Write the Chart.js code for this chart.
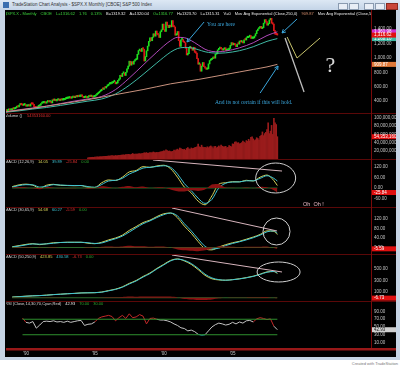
<!DOCTYPE html>
<html>
<head>
<meta charset="utf-8">
<script src="https://cdn.jsdelivr.net/npm/chart.js@4.4.0/dist/chart.umd.min.js"></script>
<style>
html, body { margin: 0; padding: 0; width: 400px; height: 366px; overflow: hidden; background: #fff; font-family: 'Liberation Sans', Arial, sans-serif; }
#frame { position: absolute; left: 0; top: 0; width: 400px; height: 360px; background: #c6d4e4; }
#titlebar { position: absolute; left: 0; top: 0; width: 400px; height: 10px; background: linear-gradient(#dde8f4, #c4d4e7); }
#title { position: absolute; left: 12px; top: 2px; font-size: 4.5px; color: #333; white-space: nowrap; }
#icon { position: absolute; left: 3px; top: 2px; width: 6px; height: 6px; background: #3a6fb0; }
.btn { position: absolute; top: 3px; height: 5px; border: 1px solid #8a9bb0; background: #e8eef6; }
#screen { position: absolute; left: 5px; top: 10px; width: 391px; height: 347px; background: #000; }
canvas { position: absolute; left: 6px; }
#credit { position: absolute; right: 2px; top: 361px; font-size: 4px; color: #777; white-space: nowrap; }
</style>
</head>
<body>
<div id="frame"></div>
<div id="titlebar"><div id="icon"></div><div id="title">TradeStation Chart Analysis - $SPX.X Monthly [CBOE] S&amp;P 500 Index</div></div>
<div class="btn" style="left:338px;width:8px"></div>
<div class="btn" style="left:349px;width:8px"></div>
<div class="btn" style="left:364px;width:8px"></div>
<div class="btn" style="left:375px;width:8px"></div>
<div class="btn" style="left:386px;width:10px;background:#c9473a;border-color:#8a2a20"></div>
<div id="screen"></div>
<canvas id="cPrice" width="390" height="103" style="top:10px"></canvas>
<canvas id="cVol" width="390" height="46" style="top:113px"></canvas>
<canvas id="cMacd1" width="390" height="48" style="top:159px"></canvas>
<canvas id="cMacd2" width="390" height="47" style="top:207px"></canvas>
<canvas id="cMacd3" width="390" height="47" style="top:254px"></canvas>
<canvas id="cRsi" width="390" height="57" style="top:301px"></canvas>
<div id="credit">Created with TradeStation</div>
<script>
// ---- data ----
// monthly closes, Jul 1988 .. Apr 2008
const closeStart = 1988.5;
const closes = [
  272.0, 261.5, 271.9, 278.9, 273.7, 277.7,
  297.5, 288.9, 294.9, 309.6, 320.5, 318.0, 346.1, 351.5, 349.2, 340.4, 346.0, 353.4,
  329.1, 331.9, 339.9, 330.8, 361.2, 358.0, 356.2, 322.6, 306.1, 304.0, 322.2, 330.2,
  343.9, 367.1, 375.2, 375.3, 389.8, 371.2, 387.8, 395.4, 387.9, 392.5, 375.2, 417.1,
  408.8, 412.7, 403.7, 415.0, 415.4, 408.1, 424.2, 414.0, 417.8, 418.7, 431.4, 435.7,
  438.8, 443.4, 451.7, 440.2, 450.2, 450.5, 448.1, 464.0, 458.9, 467.8, 461.8, 466.5,
  481.6, 467.1, 445.8, 450.9, 456.5, 444.3, 458.3, 475.5, 462.7, 472.4, 453.7, 459.3,
  470.4, 487.4, 500.7, 514.7, 533.4, 544.8, 562.1, 561.9, 584.4, 581.5, 605.4, 615.9,
  636.0, 640.4, 645.5, 654.2, 669.1, 670.6, 640.0, 652.0, 687.3, 705.3, 757.0, 740.7,
  786.2, 790.8, 757.1, 801.3, 848.3, 885.1, 954.3, 899.5, 947.3, 914.6, 955.4, 970.4,
  980.3, 1049.3, 1101.8, 1111.8, 1090.8, 1133.8, 1120.7, 957.3, 1017.0, 1098.7, 1163.6, 1229.2,
  1279.6, 1238.3, 1286.4, 1335.2, 1301.8, 1372.7, 1328.7, 1320.4, 1282.7, 1362.9, 1388.9, 1469.3,
  1394.5, 1366.4, 1498.6, 1452.4, 1420.6, 1454.6, 1430.8, 1517.7, 1436.5, 1429.4, 1315.2, 1320.3,
  1366.0, 1239.9, 1160.3, 1249.5, 1255.8, 1224.4, 1211.2, 1133.6, 1040.9, 1059.8, 1139.5, 1148.1,
  1130.2, 1106.7, 1147.4, 1076.9, 1067.1, 989.8, 911.6, 916.1, 815.3, 885.8, 936.3, 879.8,
  855.7, 841.2, 848.2, 916.9, 963.6, 974.5, 990.3, 1008.0, 996.0, 1050.7, 1058.2, 1111.9,
  1131.1, 1144.9, 1126.2, 1107.3, 1120.7, 1140.8, 1101.7, 1104.2, 1114.6, 1130.2, 1173.8, 1211.9,
  1181.3, 1203.6, 1180.6, 1156.9, 1191.5, 1191.3, 1234.2, 1220.3, 1228.8, 1207.0, 1249.5, 1248.3,
  1280.1, 1280.7, 1294.8, 1310.6, 1270.1, 1270.2, 1276.7, 1303.8, 1335.9, 1377.9, 1400.6, 1418.3,
  1438.2, 1406.8, 1420.9, 1482.4, 1530.6, 1503.4, 1455.3, 1474.0, 1526.8, 1549.4, 1481.1, 1468.4,
  1378.6, 1330.6, 1322.7, 1316.62
];

// moving averages (yearly / half-yearly readings)
const maDates = [1988.5, 1989.5, 1990.5, 1991.5, 1992.5, 1993.5, 1994.5, 1995.5, 1996.5, 1997.5, 1998.5, 1999.5,
  2000.5, 2001.0, 2001.5, 2002.0, 2002.5, 2003.0, 2003.5, 2004.0, 2004.5, 2005.5, 2006.5, 2007.5, 2008.25];
const emaMagenta = [250, 280, 305, 330, 365, 400, 430, 465, 560, 720, 900, 1080,
  1240, 1285, 1280, 1240, 1180, 1120, 1090, 1085, 1095, 1140, 1210, 1310, 1362];
const emaTeal = [245, 265, 290, 312, 340, 370, 400, 430, 500, 620, 770, 930,
  1080, 1130, 1145, 1140, 1115, 1085, 1070, 1065, 1070, 1100, 1155, 1230, 1268];
const ema250Dates = [1988.5, 1989.5, 1990.5, 1991.5, 1992.5, 1993.5, 1994.5, 1995.5, 1996.5, 1997.5, 1998.5,
  1999.5, 2000.5, 2001.5, 2002.5, 2003.5, 2004.5, 2005.5, 2006.5, 2007.5, 2008.25];
const ema250 = [250, 275, 300, 330, 360, 390, 420, 455, 490, 525, 560, 600, 640, 670, 700, 735, 770, 805, 840, 875, 909.87];

// monthly volume in millions, Jul 1994 .. Apr 2008
const volStart = 1994.5;
const volumes = [
  3, 3.5, 3.8, 4, 4.2, 4,
  4.5, 4.8, 5.2, 4.9, 5.5, 5.8, 5.6, 6.0, 6.3, 6.8, 6.5, 6.9,
  7.5, 7.2, 7.8, 8.1, 7.6, 7.4, 8.6, 7.9, 8.2, 8.8, 9.1, 9.4,
  9.8, 10.2, 9.6, 10.8, 10.5, 11.2, 11.0, 10.4, 11.6, 13.5, 11.2, 11.8,
  12.3, 12.0, 12.8, 13.1, 12.5, 13.4, 13.8, 15.2, 14.6, 15.8, 13.9, 14.5,
  15.8, 14.9, 15.6, 17.2, 15.9, 15.4, 16.1, 15.7, 16.4, 17.3, 17.9, 18.5,
  20.1, 19.4, 22.3, 20.8, 18.9, 19.6, 18.2, 17.9, 18.8, 21.5, 20.4, 22.6,
  24.1, 21.9, 26.8, 25.3, 23.6, 22.9, 23.8, 21.4, 25.7, 27.9, 24.8, 23.5,
  26.9, 25.4, 26.2, 27.8, 28.3, 29.4, 36.2, 29.8, 28.6, 33.7, 29.1, 27.6,
  28.4, 27.2, 29.8, 27.6, 30.1, 31.8, 29.4, 25.6, 30.2, 30.9, 27.3, 29.1,
  31.9, 29.6, 33.8, 31.2, 29.7, 30.1, 30.9, 27.4, 28.3, 32.6, 31.1, 29.8,
  37, 36, 41, 42, 39, 40, 37, 38, 40, 44, 41, 39,
  45, 43, 48, 44, 53, 54, 49, 45, 47, 52, 50, 46,
  55, 58, 66, 57, 62, 65, 72, 88, 62, 68, 82, 60,
  99, 88, 84, 54.35316
];

// MACD panels, half-yearly readings Jan 1989 .. Jan 2008, then Apr 2008
const halfYears = [];
for (let y = 1989; y <= 2008; y += 0.5) halfYears.push(y);
halfYears.push(2008.25);

const macd1 = [8, 18, 22, 16, -2, 16, 21, 15, 14, 13, 14, 4, 3, 30, 46, 43, 62, 92, 100, 122,
  118, 126, 130, 110, 62, 5, -28, -75, -96, -45, 22, 30, 36, 35, 44, 40, 62, 74, 42, 14.05];
const macd1Avg = [5, 14, 19, 18, 5, 10, 19, 17, 15, 14, 14, 8, 4, 20, 40, 44, 55, 80, 96, 114,
  118, 123, 127, 118, 80, 25, -15, -58, -88, -65, 0, 27, 34, 35, 41, 41, 55, 70, 55, 39.89];
const macd1Diff = [3, 4, 3, -2, -7, 6, 2, -2, -1, -1, 0, -4, -1, 10, 6, -1, 7, 12, 4, 8,
  0, 3, 3, -8, -18, -20, -13, -17, -8, 20, 22, 3, 2, 0, 3, -1, 7, 4, -13, -25.84];

const macd2 = [3, 8, 13, 16, 12, 16, 20, 21, 22, 22, 22, 18, 16, 22, 32, 40, 52, 72, 88, 105,
  115, 130, 142, 145, 125, 90, 60, 25, -5, -10, 2, 12, 20, 26, 35, 44, 55, 70, 68, 54.68];
const macd2Avg = [2, 6, 11, 15, 14, 15, 18, 21, 22, 22, 22, 20, 17, 19, 28, 37, 48, 65, 83, 100,
  112, 126, 138, 145, 133, 100, 70, 36, 5, -6, -3, 8, 17, 24, 32, 41, 52, 66, 70, 60.27];
const macd2Diff = [1, 2, 2, 1, -2, 1, 2, 0, 0, 0, 0, -2, -1, 3, 4, 3, 4, 7, 5, 5,
  3, 4, 4, 0, -8, -12, -14, -16, -12, -4, 5, 4, 3, 2, 3, 3, 3, 4, -2, -5.59];

const macd3 = [12, 20, 28, 34, 38, 46, 56, 62, 70, 76, 84, 86, 88, 100, 125, 150, 190, 250, 300, 370,
  430, 510, 580, 650, 675, 640, 580, 490, 390, 330, 310, 305, 315, 330, 350, 375, 410, 450, 455, 423.85];
const macd3Avg = [10, 18, 26, 33, 37, 44, 54, 61, 69, 75, 83, 86, 88, 97, 120, 145, 183, 240, 292, 360,
  420, 500, 570, 640, 672, 650, 595, 510, 410, 345, 315, 305, 313, 327, 347, 371, 405, 444, 458, 430.58];
const macd3Diff = [4, 4, 4, 2, 2, 4, 4, 2, 2, 2, 2, 0, 0, 6, 10, 10, 14, 20, 16, 20,
  20, 20, 20, 20, 6, -20, -30, -40, -40, -30, -10, 0, 4, 6, 6, 8, 10, 12, -6, -6.73];

// RSI quarterly, Oct 1989 .. Apr 2008
const rsiStart = 1989.75;
const rsi = [73,
  62, 60, 64, 47, 55, 64, 65, 64, 66, 63, 64, 62, 65, 62, 64, 66, 67, 54, 57, 58,
  63, 72, 76, 78, 80, 77, 66, 74, 80, 72, 84, 74, 76, 82, 78, 58, 72, 73, 70, 68,
  68, 66, 63, 58, 54, 48, 46, 40, 42, 38, 31, 29, 30, 40, 50, 56, 60, 58, 55, 57,
  62, 58, 63, 60, 66, 67, 63, 71, 74, 72, 69, 71, 52, 42.93];

// axis ticks
const priceTicks = [400, 600, 800, 1000, 1200, 1400];
const volTicks = [20, 40, 60, 80, 100];
const macd1Ticks = [120, 60, 0, -60];
const macd2Ticks = [120, 80, 40, 0];
const macd3Ticks = [500, 300, 100];
const rsiTicks = [90, 70, 50, 30, 10];
const yearTicks = [1990, 1995, 2000, 2005];
const yearText = ["'90", "'95", "'00", "'05"];

// ---- helpers ----
const X_MIN = 1988.55, X_MAX = 2015.05;
const FONT = "4.5px 'Liberation Sans'";
const HFONT = "4px 'Liberation Sans'";
const pts = (xs, ys) => ys.map((v, i) => ({x: xs[i], y: v}));
const monthly = (start, arr) => arr.map((v, i) => ({x: start + i / 12, y: v}));
const fmt2 = v => v.toLocaleString('en-US', {minimumFractionDigits: 2, maximumFractionDigits: 2});

function line(data, color, extra) {
  return Object.assign({type: 'line', data: data, borderColor: color, borderWidth: 1,
    pointRadius: 0, cubicInterpolationMode: 'monotone', fill: false}, extra || {});
}
function diffArea(data) {
  return {type: 'line', data: data, borderWidth: 0, pointRadius: 0, fill: 'origin',
    backgroundColor: '#8a1212', tension: 0.2};
}
function flat(v, t0, t1, color) {
  return {type: 'line', data: [{x: t0, y: v}, {x: t1, y: v}], borderColor: color, borderWidth: 1, pointRadius: 0};
}

function arrow(ctx, x1, y1, x2, y2) {
  ctx.beginPath(); ctx.moveTo(x1, y1); ctx.lineTo(x2, y2); ctx.stroke();
  const a = Math.atan2(y2 - y1, x2 - x1), L = 4;
  ctx.beginPath();
  ctx.moveTo(x2 - L * Math.cos(a - 0.5), y2 - L * Math.sin(a - 0.5));
  ctx.lineTo(x2, y2);
  ctx.lineTo(x2 - L * Math.cos(a + 0.5), y2 - L * Math.sin(a + 0.5));
  ctx.stroke();
}
function segLine(ctx, x, y, p) {
  ctx.beginPath();
  p.forEach((q, i) => i ? ctx.lineTo(x.getPixelForValue(q[0]), y.getPixelForValue(q[1]))
                        : ctx.moveTo(x.getPixelForValue(q[0]), y.getPixelForValue(q[1])));
  ctx.stroke();
}
function ring(ctx, x, y, t0, t1, v0, v1) {
  const a = x.getPixelForValue(t0), b = x.getPixelForValue(t1);
  const c = y.getPixelForValue(v0), d = y.getPixelForValue(v1);
  ctx.beginPath();
  ctx.ellipse((a + b) / 2, (c + d) / 2, Math.abs(b - a) / 2, Math.abs(d - c) / 2, 0, 0, Math.PI * 2);
  ctx.stroke();
}

// panel decoration: axis, ticks, value tags, header, notes
Chart.register({
  id: 'deco',
  afterDatasetsDraw(chart, args, o) {
    const {ctx, chartArea: a, scales: {x, y}} = chart;
    ctx.save();
    if (o.notes) o.notes(ctx, x, y);
    if (o.sep) { ctx.fillStyle = '#5a0808'; ctx.fillRect(0, 0, chart.width, 1); }
    ctx.fillStyle = '#7a0a0a';
    ctx.fillRect(a.right, 0, 1, a.bottom);
    ctx.font = FONT; ctx.textBaseline = 'middle'; ctx.textAlign = 'left';
    ctx.fillStyle = '#c4c4c4';
    o.ticks.forEach(v => ctx.fillText(o.fmt(v), a.right + 3, y.getPixelForValue(v)));
    (o.tags || []).forEach(tg => {
      const py = y.getPixelForValue(tg.v);
      ctx.fillStyle = tg.bg; ctx.fillRect(a.right + 1, py - 2.5, chart.width - a.right - 1, 5);
      ctx.fillStyle = tg.fg || '#fff'; ctx.fillText(tg.text, a.right + 3, py);
    });
    ctx.beginPath(); ctx.rect(0, 0, a.right, a.bottom); ctx.clip();
    ctx.font = HFONT;
    let cx = -1;
    (o.header || []).forEach(h => {
      ctx.fillStyle = h.c; ctx.fillText(h.t, cx, o.hy);
      cx += ctx.measureText(h.t).width + (o.gap || 3);
    });
    ctx.restore();
    if (o.dates) {
      ctx.save();
      ctx.fillStyle = '#981818';
      ctx.fillRect(-6, a.bottom - 2, chart.width + 6, 2.5);
      ctx.font = FONT; ctx.fillStyle = '#c4c4c4'; ctx.textAlign = 'center'; ctx.textBaseline = 'middle';
      yearTicks.forEach((t, i) => ctx.fillText(yearText[i], x.getPixelForValue(t), a.bottom + 4));
      ctx.restore();
    }
  }
});

function makeChart(id, type, datasets, yMin, yMax, deco, padBottom) {
  return new Chart(document.getElementById(id).getContext('2d'), {
    type: type,
    data: {datasets: datasets},
    options: {
      responsive: false, animation: false, devicePixelRatio: 1,
      layout: {padding: {left: 0, right: 25, top: 0, bottom: padBottom || 0}},
      plugins: {legend: {display: false}, tooltip: {enabled: false}, deco: deco},
      scales: {
        x: {type: 'linear', min: X_MIN, max: X_MAX, display: false, offset: false},
        y: {min: yMin, max: yMax, display: false}
      }
    }
  });
}

// ---- price ----
const candles = closes.map((c, i) => ({x: closeStart + i / 12, y: [i ? closes[i - 1] : c, c]}));
const lastT = 2008.25;
makeChart('cPrice', 'bar', [
  line(pts(ema250Dates, ema250), '#c9927e'),
  line(pts(maDates, emaTeal), '#3fb8a4'),
  line(pts(maDates, emaMagenta), '#b048b8'),
  {type: 'bar', data: candles, barThickness: 1, minBarLength: 1.5, grouped: false,
   backgroundColor: ctx => ctx.raw && ctx.raw.y[1] >= ctx.raw.y[0] ? '#1ee01e' : '#e01818'}
], 235, 1665, {
  ticks: priceTicks, fmt: fmt2, hy: 4, gap: 4,
  tags: [
    {v: 1268, text: '1,268.10', bg: '#3fb8a4'},
    {v: 1362, text: '1,361.98', bg: '#d030d0'},
    {v: 1316.62, text: '1,316.62', bg: '#e01010'},
    {v: 909.87, text: '909.87', bg: '#e07a3a'}
  ],
  header: [
    {t: '$SPX.X - Monthly', c: '#3cd43c'}, {t: 'CBOE', c: '#3cd43c'},
    {t: 'L=1316.62', c: '#3cd43c'}, {t: '1.76', c: '#3cd43c'}, {t: '0.13%', c: '#3cd43c'},
    {t: 'B=1319.32', c: '#e8e8e8'}, {t: 'A=1320.04', c: '#e8e8e8'},
    {t: 'O=1316.77', c: '#3cd43c'}, {t: 'H=1323.70', c: '#e8e8e8'},
    {t: 'L=1315.31', c: '#e8e8e8'}, {t: 'V=0', c: '#e8e8e8'},
    {t: 'Mov Avg Exponential (Close,250,0)', c: '#e8e8e8'}, {t: '909.87', c: '#d8906e'},
    {t: 'Mov Avg Exponential (Close,50,0)', c: '#e8e8e8'}, {t: '1,361.98', c: '#c040c8'}
  ],
  notes: (ctx, x, y) => {
    ctx.strokeStyle = '#3aa6dc'; ctx.lineWidth = 1;
    arrow(ctx, x.getPixelForValue(2002.93), y.getPixelForValue(1498), x.getPixelForValue(2001.69), y.getPixelForValue(1221));
    arrow(ctx, x.getPixelForValue(2009.68), y.getPixelForValue(1540), x.getPixelForValue(2008.59), y.getPixelForValue(1346));
    arrow(ctx, x.getPixelForValue(2007.0), y.getPixelForValue(512), x.getPixelForValue(2008.3), y.getPixelForValue(887));
    ctx.strokeStyle = '#bdbdbd'; ctx.lineWidth = 1.3;
    segLine(ctx, x, y, [[2008.81, 1276], [2010.19, 526]]);
    ctx.strokeStyle = '#c8c46c'; ctx.lineWidth = 1;
    segLine(ctx, x, y, [[2008.96, 1290], [2009.68, 998], [2011.35, 1276]]);
    ctx.font = "5.5px 'Liberation Serif'"; ctx.textBaseline = 'middle'; ctx.textAlign = 'left';
    ctx.fillStyle = '#3aa6dc';
    ctx.fillText('You are here', x.getPixelForValue(2003.15), y.getPixelForValue(1457));
    ctx.fillText('And its not certain if this will hold.', x.getPixelForValue(2003.73), y.getPixelForValue(373));
    ctx.font = "22px 'Liberation Serif'"; ctx.fillStyle = '#d8d8d8'; ctx.textAlign = 'center';
    ctx.fillText('?', x.getPixelForValue(2012.1), y.getPixelForValue(887));
  }
});

// ---- volume ----
makeChart('cVol', 'bar', [
  {type: 'bar', data: monthly(volStart, volumes), barThickness: 1, backgroundColor: '#9a1c1c'}
], 0, 112.2, {
  sep: true, ticks: volTicks, fmt: v => (v * 1e6).toLocaleString('en-US'), hy: 3, gap: 5,
  tags: [{v: 54.35316, text: '54,353,160', bg: '#e01010'}],
  header: [{t: 'Volume ()', c: '#d8d8d8'}, {t: '54353160.00', c: '#e03030'}]
});

// ---- MACD panels ----
function macdPanel(id, m, avg, diff, yMin, yMax, deco) {
  return makeChart(id, 'line', [
    diffArea(pts(halfYears, diff)),
    flat(0, 1989, lastT, '#2c6a2c'),
    line(pts(halfYears, avg), '#3ec4d4'),
    line(pts(halfYears, m), '#d8d45a')
  ], yMin, yMax, deco);
}
const macdHeader = (name, vals) => [
  {t: name, c: '#d8d8d8'}, {t: vals[0], c: '#d8d45a'}, {t: vals[1], c: '#3ec4d4'},
  {t: vals[2], c: '#e03030'}, {t: vals[3], c: '#2ea82e'}
];

macdPanel('cMacd1', macd1, macd1Avg, macd1Diff, -108.6, 165.7, {
  sep: true, ticks: macd1Ticks, fmt: fmt2, hy: 3, gap: 4,
  tags: [{v: -25.84, text: '-25.84', bg: '#e01010'}],
  header: macdHeader('MACD (12,26,9)', ['14.05', '39.89', '-25.84', '0.00']),
  notes: (ctx, x, y) => {
    ctx.strokeStyle = '#d6b4bc'; ctx.lineWidth = 1;
    segLine(ctx, x, y, [[1999.22, 160], [2008.59, 97]]);
    ctx.strokeStyle = '#cfcfcf';
    ring(ctx, x, y, 2006.68, 2009.58, 142.8, -28.6);
    ctx.font = "5.5px 'Liberation Sans'"; ctx.fillStyle = '#e6b8c4'; ctx.textBaseline = 'middle';
    ctx.fillText('Oh  Oh !', x.getPixelForValue(2010.12), y.getPixelForValue(-95));
  }
});
macdPanel('cMacd2', macd2, macd2Avg, macd2Diff, -27.4, 170.5, {
  sep: true, ticks: macd2Ticks, fmt: fmt2, hy: 3, gap: 4,
  tags: [{v: -5.59, text: '-5.59', bg: '#e01010'}],
  header: macdHeader('MACD (30,65,9)', ['54.68', '60.27', '-5.59', '0.00']),
  notes: (ctx, x, y) => {
    ctx.strokeStyle = '#d6b4bc'; ctx.lineWidth = 1;
    segLine(ctx, x, y, [[2000.6, 166.3], [2008.23, 69.5]]);
    ctx.strokeStyle = '#cfcfcf';
    ring(ctx, x, y, 2007.21, 2009.17, 124.2, 10.5);
  }
});
macdPanel('cMacd3', macd3, macd3Avg, macd3Diff, -56.5, 760.9, {
  sep: true, ticks: macd3Ticks, fmt: fmt2, hy: 3, gap: 4,
  tags: [{v: -6.73, text: '-6.73', bg: '#e01010'}],
  header: macdHeader('MACD (50,250,9)', ['423.85', '430.58', '-6.73', '0.00']),
  notes: (ctx, x, y) => {
    ctx.strokeStyle = '#d6b4bc'; ctx.lineWidth = 1;
    segLine(ctx, x, y, [[2000.6, 743.5], [2008.59, 447.9]]);
    ctx.strokeStyle = '#cfcfcf';
    ring(ctx, x, y, 2006.78, 2009.9, 621.8, 274);
  }
});

// ---- RSI ----
makeChart('cRsi', 'line', [
  flat(70, rsiStart, lastT, '#2e8f2e'),
  flat(30, rsiStart, lastT, '#2e8f2e'),
  {type: 'line', data: rsi.map((v, i) => ({x: rsiStart + i / 4, y: v})), borderWidth: 1, pointRadius: 0,
   borderColor: '#c4c4c4', tension: 0,
   segment: {borderColor: c => (c.p0.parsed.y > 70 || c.p1.parsed.y > 70) ? '#c42828' : (c.p0.parsed.y < 30 || c.p1.parsed.y < 30) ? '#30b8d0' : '#c4c4c4'}}
], -9.4, 117.1, {
  sep: true, ticks: rsiTicks, fmt: fmt2, hy: 3, gap: 4, dates: true,
  tags: [{v: 42.93, text: '42.93', bg: '#cfcfcf', fg: '#222'}],
  header: [
    {t: 'RSI (Close,14,30,70,Cyan,Red)', c: '#d8d8d8'}, {t: '42.93', c: '#e8e8e8'},
    {t: '70.00', c: '#2ea82e'}, {t: '30.00', c: '#2ea82e'}
  ]
}, 8);
</script>
</body>
</html>
